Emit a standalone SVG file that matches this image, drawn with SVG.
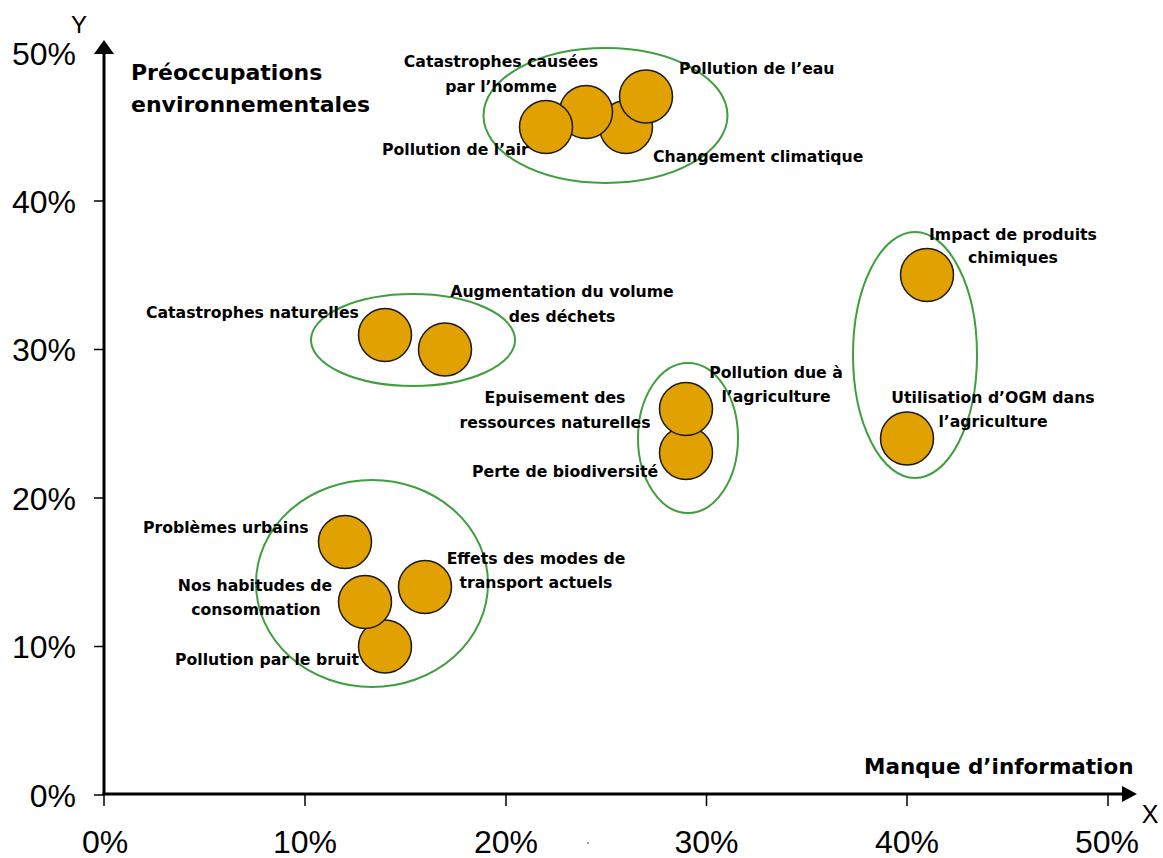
<svg xmlns="http://www.w3.org/2000/svg" width="1163" height="858" viewBox="0 0 1163 858">
<style>
.bub{fill:#E1A100;stroke:#1a1a1a;stroke-width:1.5}
.grp{fill:none;stroke:#3F9F3F;stroke-width:2}
.lbl{font-family:"DejaVu Sans",sans-serif;font-weight:bold;font-size:15.7px;fill:#000}
.mid{text-anchor:middle}
.tick{font-family:"Liberation Sans",Arial,sans-serif;font-size:32px;fill:#000}
.ax{stroke:#000;stroke-width:3;fill:none}
.tk{stroke:#000;stroke-width:1.5}
.title{font-family:"DejaVu Sans",sans-serif;font-weight:bold;fill:#000}
</style>
<rect width="1163" height="858" fill="#fff"/>
<g id="axes">
<line class="ax" x1="104" y1="795" x2="104" y2="52"/>
<polygon points="104,40 94,54 114,54" fill="#000"/>
<line class="ax" x1="102.5" y1="794" x2="1124" y2="794"/>
<polygon points="1137,794 1122,786 1122,802" fill="#000"/>
<g class="tk">
<line x1="94" y1="795" x2="104" y2="795"/>
<line x1="94" y1="646.5" x2="104" y2="646.5"/>
<line x1="94" y1="498" x2="104" y2="498"/>
<line x1="94" y1="349.5" x2="104" y2="349.5"/>
<line x1="94" y1="201" x2="104" y2="201"/>
<line x1="104" y1="794" x2="104" y2="806"/>
<line x1="305" y1="794" x2="305" y2="806"/>
<line x1="506" y1="794" x2="506" y2="806"/>
<line x1="706.5" y1="794" x2="706.5" y2="806"/>
<line x1="907" y1="794" x2="907" y2="806"/>
<line x1="1108" y1="794" x2="1108" y2="806"/>
</g>
<g class="tick" text-anchor="end">
<text x="76" y="65">50%</text>
<text x="76" y="213">40%</text>
<text x="76" y="361">30%</text>
<text x="76" y="510">20%</text>
<text x="76" y="658">10%</text>
<text x="76" y="807">0%</text>
</g>
<g class="tick" text-anchor="middle">
<text x="105" y="853">0%</text>
<text x="305" y="853">10%</text>
<text x="506" y="853">20%</text>
<text x="706.5" y="853">30%</text>
<text x="907" y="853">40%</text>
<text x="1107" y="853">50%</text>
</g>
<text x="79" y="33" font-family="Liberation Sans,Arial,sans-serif" font-size="24" text-anchor="middle">Y</text>
<text x="1150" y="823" font-family="Liberation Sans,Arial,sans-serif" font-size="25" text-anchor="middle">X</text>
<text class="title" x="131" y="80" font-size="22">Préoccupations</text>
<text class="title" x="131" y="112" font-size="22">environnementales</text>
<text class="title" x="864" y="774" font-size="21.5">Manque d’information</text>
<circle cx="588" cy="843" r="1" fill="#888"/>
</g>
<g id="clusters">
<ellipse class="grp" cx="605.5" cy="115.5" rx="122" ry="67.5"/>
<ellipse class="grp" cx="413" cy="340" rx="102" ry="46"/>
<ellipse class="grp" cx="688" cy="438" rx="50" ry="75"/>
<ellipse class="grp" cx="915" cy="355" rx="62" ry="123"/>
<ellipse class="grp" cx="372" cy="583.5" rx="116" ry="103.5"/>
</g>
<g id="n-changement"><circle class="bub" cx="626" cy="127" r="26.5"/><text class="lbl" x="653" y="162">Changement climatique</text></g>
<g id="n-homme"><circle class="bub" cx="586" cy="112" r="26.5"/><text class="lbl mid" x="501" y="67">Catastrophes causées</text><text class="lbl mid" x="501" y="92">par l’homme</text></g>
<g id="n-air"><circle class="bub" cx="546" cy="127" r="26.5"/><text class="lbl" x="382" y="155">Pollution de l’air</text></g>
<g id="n-eau"><circle class="bub" cx="646" cy="96.5" r="26.5"/><text class="lbl" x="679" y="74">Pollution de l’eau</text></g>
<g id="n-catnat"><circle class="bub" cx="385" cy="335" r="26.5"/><text class="lbl" x="146" y="318">Catastrophes naturelles</text></g>
<g id="n-dechets"><circle class="bub" cx="445" cy="349.5" r="26.5"/><text class="lbl mid" x="562" y="297">Augmentation du volume</text><text class="lbl mid" x="562" y="322">des déchets</text></g>
<g id="n-biodiv"><circle class="bub" cx="686" cy="453" r="26.5"/><text class="lbl" x="472" y="477">Perte de biodiversité</text></g>
<g id="n-agri"><circle class="bub" cx="686" cy="409" r="26.5"/><text class="lbl mid" x="776" y="378">Pollution due à</text><text class="lbl mid" x="776" y="402">l’agriculture</text></g>
<g id="n-epuisement"><text class="lbl mid" x="555" y="403">Epuisement des</text><text class="lbl mid" x="555" y="428">ressources naturelles</text></g>
<g id="n-chimiques"><circle class="bub" cx="927" cy="275" r="26.5"/><text class="lbl mid" x="1013" y="240">Impact de produits</text><text class="lbl mid" x="1013" y="263">chimiques</text></g>
<g id="n-ogm"><circle class="bub" cx="907" cy="438.5" r="26.5"/><text class="lbl mid" x="993" y="403">Utilisation d’OGM dans</text><text class="lbl mid" x="993" y="427">l’agriculture</text></g>
<g id="n-urbains"><circle class="bub" cx="345" cy="542" r="26.5"/><text class="lbl" x="143" y="533">Problèmes urbains</text></g>
<g id="n-bruit"><circle class="bub" cx="385" cy="646.5" r="26.5"/><text class="lbl" x="175" y="665">Pollution par le bruit</text></g>
<g id="n-habitudes"><circle class="bub" cx="365" cy="602" r="26.5"/><text class="lbl mid" x="255" y="591">Nos habitudes de</text><text class="lbl mid" x="256" y="615">consommation</text></g>
<g id="n-transport"><circle class="bub" cx="425" cy="587" r="26.5"/><text class="lbl mid" x="536" y="564">Effets des modes de</text><text class="lbl mid" x="536" y="588">transport actuels</text></g>
</svg>
